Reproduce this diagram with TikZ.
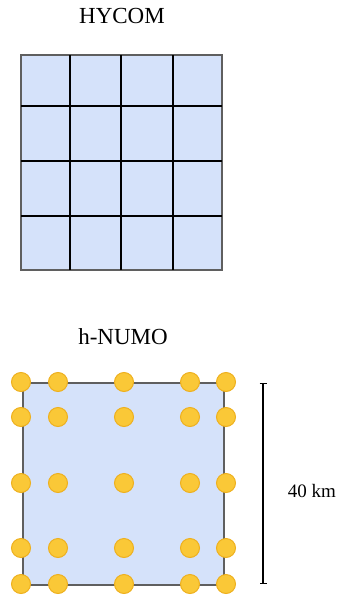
\documentclass[tikz,border=0pt]{standalone}
\usepackage{fontspec}
\setmainfont{Liberation Serif}
\usetikzlibrary{arrows.meta}
\definecolor{cellblue}{RGB}{213,226,250}
\definecolor{framegray}{RGB}{95,95,95}
\definecolor{dotfill}{RGB}{250,200,55}
\definecolor{dotedge}{RGB}{238,176,30}
\tikzset{
  title/.style={font=\fontsize{23}{27}\selectfont, inner sep=0pt, anchor=center},
  dot/.style={circle, fill=dotfill, draw=dotedge, line width=1pt, minimum size=19pt, inner sep=0pt},
  gridline/.style={black, line width=2pt},
  frame/.style={draw=framegray, line width=2pt, fill=cellblue},
}
\begin{document}
\begin{tikzpicture}[x=1pt,y=-1pt]
\useasboundingbox (0,0) rectangle (347,597);
% HYCOM
\node[title] (hycom) at (122,16) {HYCOM};
\draw[frame] (21,55) rectangle (222,270);
\foreach \x in {70,121,173} \draw[gridline] (\x,55) -- (\x,270);
\foreach \y in {106,161,216} \draw[gridline] (21,\y) -- (222,\y);
% h-NUMO
\node[title] (hnumo) at (123,337) {h-NUMO};
\draw[frame] (23,383) rectangle (224,585);
\foreach \x [count=\i] in {21,58,124,190,226}
  \foreach \y [count=\j] in {382,417,483,548,584}
    \node[dot] (d\i\j) at (\x,\y) {};
% scale bar
\coordinate (st) at (263,383);
\coordinate (sb) at (263,584);
\draw[line width=1.2pt, {Bar[width=7pt]}-{Bar[width=7pt]}] (st) -- (sb);
\node[font=\fontsize{19}{22}\selectfont, inner sep=0pt] (km) at (312,491) {40 km};
\end{tikzpicture}
\end{document}
